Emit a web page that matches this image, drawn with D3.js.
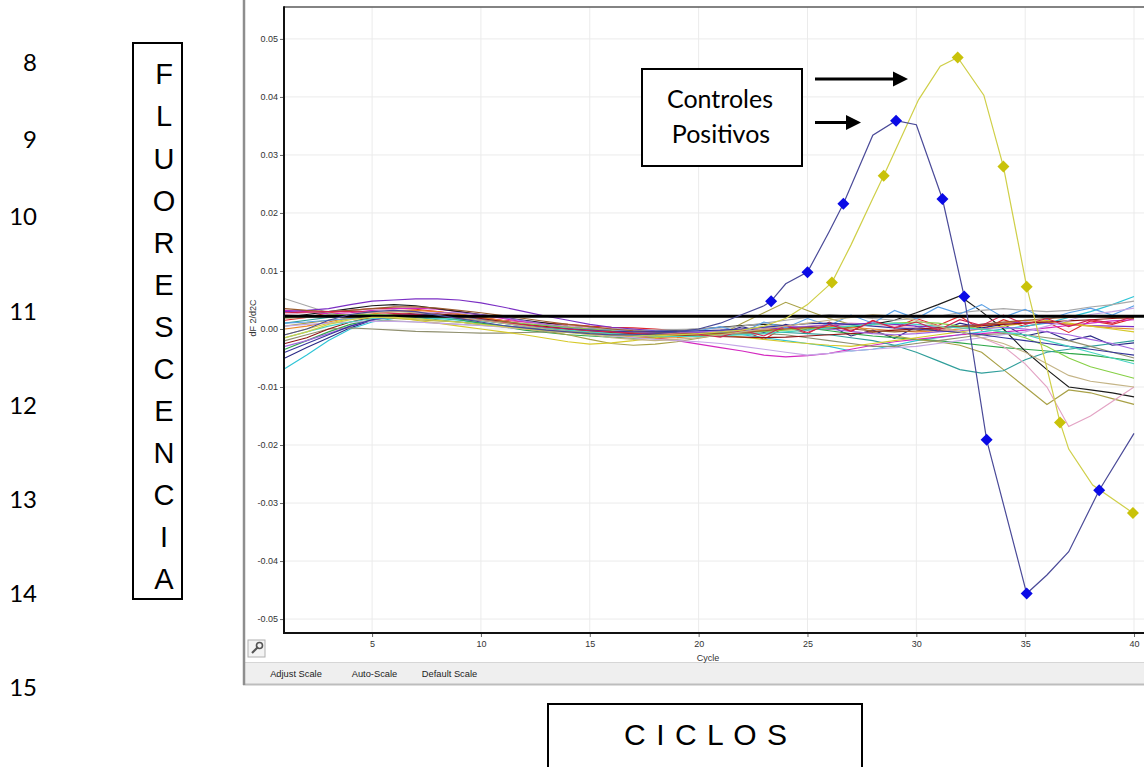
<!DOCTYPE html>
<html><head><meta charset="utf-8">
<script src="https://cdn.jsdelivr.net/npm/d3@7"></script>
<style>body{margin:0;background:#fff}svg{display:block}</style>
</head><body>
<svg id="c" width="1144" height="767"></svg>
<script>
// ---------------- DATA ----------------
const lineNumbers = ["8","9","10","11","12","13","14","15"];
const verticalTitle = ["F","L","U","O","R","E","S","C","E","N","C","I","A"];
const xTitle = "C I C L O S";
const calloutLines = ["Controles","Positivos"];
const toolbarButtons = ["Adjust Scale","Auto-Scale","Default Scale"];
const xAxisLabel = "Cycle";
const yAxisLabel = "dF 2/d2C";
const xTicks = [5,10,15,20,25,30,35,40];
const yTicks = [-0.05,-0.04,-0.03,-0.02,-0.01,0,0.01,0.02,0.03,0.04,0.05];
const threshold = 0.0022;

const cycles = [1,2,3,4,5,6,7,8,9,10,11,12,13,14,15,16,17,18,19,20,21,22,23,24,25,26,27,28,29,30,31,32,33,34,35,36,37,38,39,40];

// sample (background) curves, one value per cycle
const curveRed = [.0015,.002,.0028,.0032,.0035,.0036,.0034,.003,.0025,.002,.0015,.0012,.001,.0008,.0005,.0003,.0002,0,-.0003,-.0005,-.0012,-.0002,-.0018,.0004,-.0008,.0012,-.0004,.0015,.0002,.0018,.0006,.0022,-.0002,.0016,.0004,.0012,-.0006,.0014,.0008,.0018];
const curveNavy = [-.005,-.0032,-.0015,.0002,.0015,.0023,.0026,.0025,.0022,.0017,.0012,.0008,.0004,0,-.0004,-.0008,-.001,-.0011,-.001,-.0008,-.0008,.0004,-.0006,.0008,-.0002,.0006,-.0012,-.0002,-.0016,.0004,-.0004,.001,.0002,.0008,-.0012,-.0004,-.002,-.0012,-.0028,-.0024];
const curveCyan = [-.0068,-.0045,-.002,0,.0012,.0018,.002,.0018,.0015,.001,.0006,.0002,-.0002,-.0005,-.0008,-.001,-.0012,-.0013,-.0012,-.001,-.0008,-.001,-.0015,-.002,-.0025,-.003,-.0038,-.0035,-.0028,-.002,-.0015,-.001,-.0005,0,.0005,.001,.002,.003,.0042,.0056];
const curveMagenta = [.0032,.003,.0026,.0028,.0032,.0035,.0036,.0034,.003,.0024,.0018,.0012,.0006,0,-.0005,-.0008,-.001,-.0015,-.002,-.0026,-.0032,-.0038,-.0045,-.0048,-.0046,-.0042,-.0035,-.0028,-.0022,-.0018,-.0014,-.001,-.0008,-.0005,-.0002,.0002,.0006,.001,.0014,.0016];
const curveGreen = [-.0035,-.002,-.0005,.0008,.0016,.002,.0022,.002,.0016,.001,.0004,-.0002,-.0006,-.001,-.0012,-.0014,-.0016,-.0015,-.0012,-.0008,-.0005,0,.0003,.0005,.0002,-.0003,-.0008,-.0012,-.0015,-.0018,-.002,-.0024,-.0028,-.0032,-.0035,-.0038,-.0042,-.0045,-.005,-.0055];
const curveOlive = [.0005,.001,.0015,.0018,.002,.0018,.0016,.0014,.0012,.0008,.0004,0,-.0004,-.001,-.0018,-.0025,-.0028,-.0026,-.0022,-.0016,-.001,.001,.0028,.0046,.0032,.0018,.0008,-.0006,-.0012,-.0018,-.0022,-.0028,-.004,-.007,-.01,-.013,-.0105,-.011,-.012,-.013];
const curveBlack = [.002,.0025,.003,.0035,.004,.0042,.004,.0035,.003,.0025,.002,.0015,.001,.0005,.0002,0,-.0002,-.0003,-.0002,0,.0003,.0006,.0008,.0006,.0002,0,.0003,.0008,.0015,.0028,.0042,.0057,.003,0,-.0038,-.007,-.01,-.0105,-.011,-.0117];
const curveTeal = [.001,.0015,.002,.0022,.0024,.0023,.002,.0016,.0012,.0008,.0005,.0002,0,-.0002,-.0004,-.0006,-.0008,-.001,-.001,-.0008,-.0006,-.0005,-.0005,-.0006,-.0008,-.001,-.0015,-.002,-.0028,-.004,-.0055,-.007,-.0076,-.0072,-.0053,-.004,-.0035,-.003,-.0025,-.002];
const curvePink = [.0025,.0028,.003,.0032,.0034,.0033,.003,.0026,.0022,.0018,.0014,.001,.0008,.0005,.0002,0,-.0002,-.0004,-.0005,-.0004,-.0002,0,.0002,.0003,.0005,.0008,.001,.0008,.0005,.0002,0,-.0005,-.0015,-.003,-.006,-.01,-.0168,-.015,-.0125,-.01];
const curveGray = [.0052,.004,.0028,.002,.0016,.0014,.0012,.001,.0008,.0006,.0004,.0003,.0002,.0001,0,-.0001,-.0002,-.0002,-.0001,0,.0002,.0005,.001,.0015,.002,.0025,.0022,.0018,.0015,.0018,.0022,.0028,.0032,.0035,.0032,.003,.0032,.0038,.0042,.0048];
const curvePurple = [.003,.0032,.0035,.0042,.0048,.005,.0052,.0052,.005,.0045,.0038,.003,.0022,.0015,.0008,.0003,0,-.0003,-.0005,-.0006,-.0005,-.0003,0,.0002,.0004,.0006,.0008,.001,.0008,.0005,.0003,.0005,.0008,.001,.0012,.001,.0008,.0006,.0005,.0004];
const curveGrayOlive = [-.002,-.001,0,.0002,0,-.0002,-.0004,-.0005,-.0006,-.0007,-.0007,-.0006,-.0005,-.0005,-.0006,-.0008,-.001,-.0012,-.0013,-.0012,-.001,-.0008,-.0008,-.001,-.0015,-.002,-.0025,-.003,-.003,-.0025,-.002,-.0015,-.001,-.0008,-.001,-.0015,-.002,-.003,-.004,-.005];
const curveOrange = [0,.0005,.0012,.002,.0026,.003,.0032,.003,.0026,.002,.0014,.0008,.0003,-.0002,-.0006,-.001,-.0014,-.0016,-.0015,-.0012,-.0008,-.0005,-.0002,0,.0002,.0004,.0003,0,-.0003,-.0005,-.0003,0,.0005,.001,.0015,.0012,.0008,.0005,.0002,0];
const curveGold = [-.001,0,.001,.0018,.0022,.002,.0015,.001,.0005,0,-.0005,-.001,-.0016,-.0022,-.0026,-.0024,-.002,-.0015,-.001,-.0008,-.001,-.0014,-.0018,-.0022,-.0025,-.0028,-.003,-.0025,-.002,-.0015,-.001,-.0005,0,.0005,.001,.0015,.001,.0005,0,-.0005];
const curveSky = [.001,.0012,.0015,.0018,.002,.0022,.0023,.0022,.002,.0016,.0012,.0008,.0005,.0002,0,-.0002,-.0003,-.0004,-.0004,-.0003,.0004,-.0006,.0012,.0002,.0018,.0006,.0024,.001,.0032,.0018,.0038,.0026,.0042,.002,.0034,.0016,.0028,.0036,.0024,.004];
const curveDarkRed = [-.0025,-.0015,0,.0012,.002,.0025,.0027,.0026,.0023,.0018,.0013,.0008,.0004,0,-.0003,-.0006,-.0008,-.001,-.0011,-.0012,-.0013,-.0014,-.0015,-.0014,-.0012,-.001,-.0008,-.0005,-.0002,0,.0002,.0004,.0006,.0008,.001,.0012,.0014,.0016,.0018,.002];
const curveViolet = [-.003,-.002,-.0008,.0005,.0015,.0022,.0026,.0028,.0028,.0025,.002,.0014,.0008,.0003,0,-.0003,-.0005,-.0006,-.0006,-.0005,-.0003,0,.0003,.0005,.0003,0,-.0004,-.0008,-.001,-.0008,-.0005,-.0003,0,.0003,0,-.0005,-.001,-.0018,-.0025,-.0035];
const curveLime = [.002,.0022,.0024,.0025,.0025,.0024,.0022,.002,.0018,.0015,.0012,.0009,.0006,.0003,0,-.0003,-.0006,-.0009,-.001,-.001,-.0008,-.0006,-.0004,-.0002,0,.0002,.0005,.0008,.001,.0012,.001,.0005,0,-.0005,-.0015,-.003,-.005,-.0065,-.0075,-.0085];
const curveBrown = [.0035,.0032,.003,.0032,.0035,.0038,.0038,.0036,.0032,.0028,.0023,.0018,.0013,.0008,.0004,0,-.0003,-.0005,-.0007,-.0008,-.0008,-.0006,-.0003,0,.0003,.0002,0,-.0003,-.0005,-.0003,0,.0004,.0008,.0012,.0015,.0018,.002,.0022,.002,.0018];
const curveLavender = [.0005,.0008,.001,.0012,.0013,.0013,.0012,.001,.0008,.0006,.0003,0,-.0003,-.0006,-.0009,-.0012,-.0015,-.0018,-.002,-.0022,-.0025,-.003,-.0035,-.004,-.0045,-.0042,-.0038,-.0035,-.0032,-.003,-.0025,-.002,-.0015,-.001,-.0005,.0005,.0015,.0025,.003,.0036];
const curveNavy2 = [-.004,-.0025,-.001,.0005,.0016,.0022,.0025,.0024,.002,.0015,.001,.0005,.0002,0,-.0002,-.0004,-.0005,-.0005,-.0004,-.0003,-.0002,0,.0003,.0006,.0009,.001,.0008,.0005,.0002,0,-.0003,-.0006,-.001,-.0015,-.002,-.0025,-.003,-.0035,-.004,-.0045];
const curveTurquoise = [-.0015,-.0005,.0005,.0012,.0018,.002,.002,.0019,.0017,.0014,.001,.0006,.0002,-.0002,-.0005,-.0008,-.001,-.0012,-.0013,-.0013,-.0012,-.001,-.0008,-.0005,-.0002,.0002,.0005,.0008,.001,.0008,.0005,.0002,0,-.0005,-.001,-.002,-.003,-.004,-.005,-.006];
const curveCrimson = [.0028,.0029,.003,.003,.0029,.0027,.0025,.0022,.0019,.0015,.0011,.0007,.0003,0,-.0003,-.0005,-.0007,-.0008,-.0009,-.0009,-.0014,-.0002,-.0012,.0006,-.0006,.0008,-.0004,.0014,.0002,.0012,-.0002,.0016,.0006,.0024,.0008,.0018,.0004,.0016,.001,.0022];
const curveTan = [.0018,.002,.0022,.0025,.0028,.003,.0028,.0025,.002,.0015,.001,.0005,0,-.0005,-.001,-.0015,-.0018,-.002,-.0018,-.0015,-.001,-.0005,0,.0005,.001,.0015,.002,.0025,.0022,.0015,.0005,-.0005,-.0015,-.0025,-.004,-.006,-.008,-.009,-.0095,-.01];

// positive controls (line vertices and marker points)
const blueCycles = [1,2,3,4,5,6,7,8,9,10,11,12,13,14,15,16,17,18,19,20,21,22,23,23.33,24,25,26,26.65,28,29.07,30,31.2,32.2,33.23,35.07,36,37,38.4,40];
const blueValues = [-.001,0,.0015,.0025,.003,.0032,.003,.0024,.0018,.0012,.0006,.0002,-.0002,-.0005,-.0008,-.001,-.001,-.0008,-.0005,0,.001,.0025,.004,.0048,.0078,.0098,.0168,.0216,.0334,.0359,.0352,.0224,.0056,-.0191,-.0456,-.0424,-.0384,-.0278,-.018];
const blueMarkerCycles = [23.33,25,26.65,29.07,31.2,32.2,33.23,35.07,38.4];
const blueMarkerValues = [.0048,.0098,.0216,.0359,.0224,.0056,-.0191,-.0456,-.0278];

const yellowCycles = [1,2,3,4,5,6,7,8,9,10,11,12,13,14,15,16,17,18,19,20,21,22,23,24,25,26,26.12,27,28,28.5,29,30.1,31.1,31.9,33.1,34,35.07,36,36.6,37,38.1,39.95];
const yellowValues = [-.0015,-.0005,.0008,.0016,.002,.002,.0018,.0015,.0012,.0008,.0004,0,-.0003,-.0006,-.0009,-.0011,-.0012,-.0012,-.001,-.0008,-.0005,-.0002,.0005,.0018,.0042,.0076,.008,.0145,.0225,.0264,.0305,.0395,.0453,.0468,.0403,.028,.0073,-.0068,-.0161,-.0207,-.0269,-.0317];
const yellowMarkerCycles = [26.12,28.5,31.9,34,35.07,36.6,39.95];
const yellowMarkerValues = [.008,.0264,.0468,.028,.0073,-.0161,-.0317];

const backgroundCurves = [curveRed,curveNavy,curveCyan,curveMagenta,curveGreen,curveOlive,curveBlack,curveTeal,curvePink,curveGray,curvePurple,curveGrayOlive,curveOrange,curveGold,curveSky,curveDarkRed,curveViolet,curveLime,curveBrown,curveLavender,curveNavy2,curveTurquoise,curveCrimson,curveTan];
const backgroundColors = ["#e0262b","#2a2a86","#2ec4d6","#d428c0","#2fa84a","#a8a046","#1c1c1c","#2f9e9a","#e3a3c4","#a8a8a8","#7b2fc4","#8f8f6e","#e8862a","#d6c92a","#5aa0e6","#8e1414","#a466e0","#86d045","#9a5a2c","#c4a6e6","#35359a","#48d4c2","#d2204e","#c4b486"];

// ---------------- LAYOUT ----------------
const W = 1144, H = 767;
const svg = d3.select("#c");
svg.append("rect").attr("width", W).attr("height", H).attr("fill", "#fff");

const x = d3.scaleLinear().domain([1, 41]).range([285, 285 + 40 * 21.77]);
const y = d3.scaleLinear().domain([-0.0524, 0.0555]).range([633, 7]);
const plotL = 284, plotR = W, plotT = 7, plotB = 633;

// left document line numbers
const lineNumberYs = [62, 139, 216, 311, 405, 499, 593, 687];
const gNum = svg.append("g").attr("font-family", "Lato, 'Open Sans', sans-serif").attr("font-size", 24).attr("text-anchor", "end").attr("fill", "#000");
lineNumbers.forEach((t, i) => gNum.append("text").attr("x", 37).attr("y", lineNumberYs[i] + 8.5).text(t));

// vertical title box
svg.append("rect").attr("x", 133).attr("y", 43).attr("width", 49).attr("height", 556).attr("fill", "none").attr("stroke", "#000").attr("stroke-width", 2);
const gV = svg.append("g").attr("font-family", "'Liberation Sans', Arial, sans-serif").attr("font-size", 29).attr("text-anchor", "middle").attr("fill", "#000");
verticalTitle.forEach((t, i) => gV.append("text").attr("x", 164).attr("y", 74 + i * 42.08 + 10.4).text(t));

// frame of the software window
svg.append("rect").attr("x", 245).attr("y", 662).attr("width", W - 245).attr("height", 22).attr("fill", "#efefef");
svg.append("line").attr("x1", 245).attr("x2", W).attr("y1", 662.5).attr("y2", 662.5).attr("stroke", "#d6d6d6");
svg.append("line").attr("x1", 243).attr("x2", W).attr("y1", 684.5).attr("y2", 684.5).attr("stroke", "#bdbdbd").attr("stroke-width", 2);
svg.append("line").attr("x1", 244).attr("x2", 244).attr("y1", 0).attr("y2", 685).attr("stroke", "#8e8e8e").attr("stroke-width", 2.5);

const bx = [296, 374.5, 449.5];
svg.append("g").attr("font-family", "'Liberation Sans', Arial, sans-serif").attr("font-size", 9.3).attr("fill", "#222").attr("text-anchor", "middle")
  .selectAll("text").data(toolbarButtons).join("text").attr("x", (d, i) => bx[i]).attr("y", 676.5).text(d => d);

// wrench button
const gw = svg.append("g");
gw.append("rect").attr("x", 248).attr("y", 640).attr("width", 17).attr("height", 17).attr("fill", "#f4f4f4").attr("stroke", "#b0b0b0");
gw.append("path").attr("d", "M252,653 L258,647").attr("stroke", "#555").attr("stroke-width", 2.2).attr("fill", "none");
gw.append("circle").attr("cx", 259.5).attr("cy", 645.5).attr("r", 3).attr("stroke", "#555").attr("stroke-width", 1.6).attr("fill", "none");

// grid
const grid = svg.append("g").attr("stroke", "#ebebeb").attr("stroke-width", 1);
grid.selectAll("line.v").data(xTicks).join("line").attr("x1", d => x(d)).attr("x2", d => x(d)).attr("y1", plotT).attr("y2", plotB);
grid.selectAll("line.h").data(yTicks).join("line").attr("x1", plotL).attr("x2", plotR).attr("y1", d => y(d)).attr("y2", d => y(d));

// axes
const fnt = "'Liberation Sans', Arial, sans-serif";
const ya = svg.append("g").attr("transform", `translate(${plotL},0)`)
  .call(d3.axisLeft(y).tickValues(yTicks).tickSize(4).tickPadding(2).tickFormat(d => d.toFixed(2)));
ya.select(".domain").remove();
ya.selectAll("text").attr("font-family", fnt).attr("font-size", 9).attr("fill", "#333");
ya.selectAll("line").attr("stroke", "#666");
const xa = svg.append("g").attr("transform", `translate(0,${plotB})`)
  .call(d3.axisBottom(x).tickValues(xTicks).tickSize(4).tickPadding(4).tickFormat(d => String(d)));
xa.select(".domain").remove();
xa.selectAll("text").attr("font-family", fnt).attr("font-size", 9).attr("fill", "#333");
xa.selectAll("line").attr("stroke", "#666");

svg.append("text").attr("x", 708).attr("y", 660.5).attr("text-anchor", "middle").attr("font-family", fnt).attr("font-size", 9).attr("fill", "#333").text(xAxisLabel);
svg.append("text").attr("transform", "translate(256,318) rotate(-90)").attr("text-anchor", "middle").attr("font-family", fnt).attr("font-size", 9).attr("fill", "#333").text(yAxisLabel);

// curves
svg.append("clipPath").attr("id", "pc").append("rect").attr("x", plotL).attr("y", plotT).attr("width", plotR - plotL).attr("height", plotB - plotT);
const gp = svg.append("g").attr("clip-path", "url(#pc)");
const line = d3.line().x(d => x(d[0])).y(d => y(d[1]));

backgroundCurves.forEach((vals, i) => {
  gp.append("path").datum(cycles.map((c, j) => [c, vals[j]]))
    .attr("d", line).attr("fill", "none").attr("stroke", backgroundColors[i]).attr("stroke-width", 1.15);
});

// threshold
gp.append("line").attr("x1", plotL).attr("x2", plotR).attr("y1", y(threshold)).attr("y2", y(threshold)).attr("stroke", "#000").attr("stroke-width", 3);

// positive controls
gp.append("path").datum(yellowCycles.map((c, j) => [c, yellowValues[j]])).attr("d", line).attr("fill", "none").attr("stroke", "#cfcf48").attr("stroke-width", 1.2);
gp.append("path").datum(blueCycles.map((c, j) => [c, blueValues[j]])).attr("d", line).attr("fill", "none").attr("stroke", "#4a4a98").attr("stroke-width", 1.2);

const diamond = (cx, cy, r) => `M${cx},${cy - r}L${cx + r},${cy}L${cx},${cy + r}L${cx - r},${cy}Z`;
gp.selectAll("path.ym").data(yellowMarkerCycles.map((c, j) => [c, yellowMarkerValues[j]])).join("path")
  .attr("d", d => diamond(x(d[0]), y(d[1]), 6)).attr("fill", "#c9c20a");
gp.selectAll("path.bm").data(blueMarkerCycles.map((c, j) => [c, blueMarkerValues[j]])).join("path")
  .attr("d", d => diamond(x(d[0]), y(d[1]), 6)).attr("fill", "#0a0ae6");

// plot border lines
svg.append("line").attr("x1", plotL).attr("x2", plotR).attr("y1", plotT).attr("y2", plotT).attr("stroke", "#5a5a5a").attr("stroke-width", 1.5);
svg.append("line").attr("x1", plotL).attr("x2", plotL).attr("y1", plotT - 0.75).attr("y2", plotB + 1).attr("stroke", "#111").attr("stroke-width", 2);
svg.append("line").attr("x1", plotL).attr("x2", plotR).attr("y1", plotB).attr("y2", plotB).attr("stroke", "#111").attr("stroke-width", 2);

// callout box
svg.append("rect").attr("x", 642).attr("y", 69).attr("width", 160).attr("height", 97).attr("fill", "#fff").attr("stroke", "#000").attr("stroke-width", 2);
const gc = svg.append("g").attr("font-family", "Lato, 'Open Sans', sans-serif").attr("font-size", 25).attr("text-anchor", "middle").attr("fill", "#000");
gc.append("text").attr("x", 720).attr("y", 108).text(calloutLines[0]);
gc.append("text").attr("x", 721).attr("y", 143).text(calloutLines[1]);

// arrows
function arrow(x1, x2, yy) {
  svg.append("line").attr("x1", x1).attr("x2", x2 - 13).attr("y1", yy).attr("y2", yy).attr("stroke", "#000").attr("stroke-width", 3);
  svg.append("path").attr("d", `M${x2 - 15},${yy - 7.5}L${x2},${yy}L${x2 - 15},${yy + 7.5}Z`).attr("fill", "#000");
}
arrow(815, 908, 79);
arrow(815, 861, 122.5);

// bottom title box
svg.append("rect").attr("x", 548).attr("y", 704).attr("width", 314).attr("height", 90).attr("fill", "none").attr("stroke", "#000").attr("stroke-width", 2);
svg.append("text").attr("x", 705.5).attr("y", 745).attr("text-anchor", "middle").attr("font-family", "'Liberation Sans', Arial, sans-serif")
  .attr("font-size", 30).attr("textLength", 163).attr("lengthAdjust", "spacing").text(xTitle);
</script>
</body></html>
